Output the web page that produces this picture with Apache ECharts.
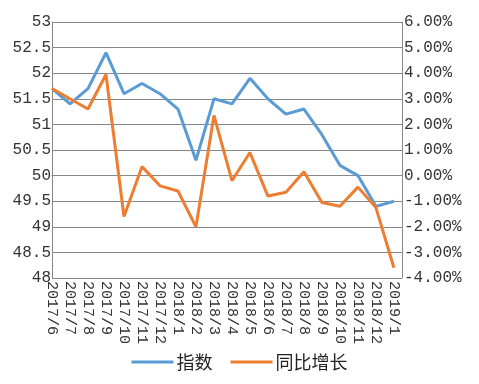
<!DOCTYPE html>
<html>
<head>
<meta charset="utf-8">
<script src="https://cdn.jsdelivr.net/npm/echarts@6/dist/echarts.min.js"></script>
<style>html,body{margin:0;padding:0;background:#fff;}#c{width:479px;height:384px;}</style>
</head>
<body>
<div id="c"></div>
<script>
var categories = ['2017/6','2017/7','2017/8','2017/9','2017/10','2017/11','2017/12','2018/1','2018/2','2018/3','2018/4','2018/5','2018/6','2018/7','2018/8','2018/9','2018/10','2018/11','2018/12','2019/1'];
var indexValues = [51.7,51.4,51.7,52.4,51.6,51.8,51.6,51.3,50.3,51.5,51.4,51.9,51.5,51.2,51.3,50.8,50.2,50.0,49.4,49.5];
var growthValues = [3.4,3.0,2.6,3.95,-1.6,0.35,-0.4,-0.6,-2.0,2.35,-0.2,0.9,-0.8,-0.65,0.15,-1.05,-1.2,-0.45,-1.25,-3.6];
var seriesNames = ['指数','同比增长'];

function pairs(arr){ return arr.map(function(v,i){ return [i,v]; }); }
var monoFont = 'Liberation Mono';
var chart = echarts.init(document.getElementById('c'), null, {renderer:'canvas'});
chart.setOption({
  animation:false,
  backgroundColor:'#fff',
  grid:{left:52,right:77,top:22,bottom:106,containLabel:false},
  legend:{
    bottom:8,left:'center',
    data:[{name:seriesNames[0],icon:'rect'},{name:seriesNames[1],icon:'rect'}],
    itemWidth:42,itemHeight:3,itemGap:18,
    textStyle:{fontFamily:'Noto Sans CJK SC',fontSize:18,color:'#222',padding:[0,0,0,-2]}
  },
  xAxis:{
    type:'value',min:0,max:19.45,interval:1,
    axisLine:{show:true,lineStyle:{color:'#888',width:1}},
    axisTick:{show:false},
    splitLine:{show:false},
    axisLabel:{
      rotate:-90,margin:3,fontFamily:monoFont,fontSize:15,color:'#333',
      showMaxLabel:false,
      formatter:function(v){ return (Math.abs(v-Math.round(v))<1e-6 && categories[Math.round(v)]) ? categories[Math.round(v)] : ''; }
    }
  },
  yAxis:[{
    type:'value',min:48,max:53,interval:0.5,
    axisLine:{show:true,lineStyle:{color:'#888'}},
    axisTick:{show:false},
    splitLine:{show:true,lineStyle:{color:'#888',width:1}},
    axisLabel:{margin:1,fontFamily:monoFont,fontSize:16,color:'#333',formatter:function(v){return String(+v.toFixed(1));}}
  },{
    type:'value',min:-4,max:6,interval:1,position:'right',
    axisLine:{show:true,lineStyle:{color:'#888'}},
    axisTick:{show:false},
    splitLine:{show:false},
    axisLabel:{margin:2,fontFamily:monoFont,fontSize:16,color:'#333',formatter:function(v){return v.toFixed(2)+'%';}}
  }],
  series:[{
    name:seriesNames[0],type:'line',yAxisIndex:0,data:pairs(indexValues),
    symbol:'none',lineStyle:{width:3,color:'#5B9BD5'},itemStyle:{color:'#5B9BD5'}
  },{
    name:seriesNames[1],type:'line',yAxisIndex:1,data:pairs(growthValues),
    symbol:'none',lineStyle:{width:3,color:'#ED7D31'},itemStyle:{color:'#ED7D31'}
  }]
});
</script>
</body>
</html>
